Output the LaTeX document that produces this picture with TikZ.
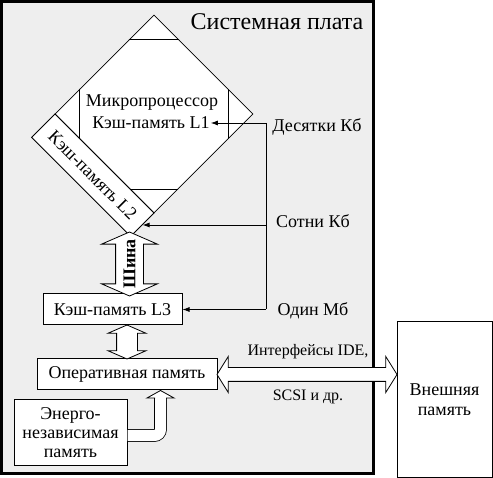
\documentclass[tikz,border=0pt]{standalone}
\usepackage{fontspec}
\setmainfont{Liberation Serif}
\usetikzlibrary{arrows.meta,shapes.geometric,shapes.arrows,calc}

\definecolor{boardgray}{HTML}{EEEEEE}

\tikzset{
    block/.style={draw, line width=1pt, fill=white, inner sep=0pt, align=center},
    hollow/.style={double arrow, draw, line width=0.8pt, fill=white, inner xsep=0pt},
    feed/.style={line width=0.8pt, -{Latex[length=7pt,width=5pt]}},
    lbl/.style={inner sep=1pt}
}

\begin{document}
\begin{tikzpicture}[x=1pt, y=-1pt, font=\fontsize{18}{21}\selectfont]
    \useasboundingbox (0,0) rectangle (493,478);

    % System board
    \draw[line width=3pt, fill=boardgray] (1.5,1.5) rectangle (373.5,473.5);
    \node[lbl, font=\fontsize{24}{28}\selectfont] (board) at (277,22) {Системная плата};

    % Processor with cache L1 and L2
    \node[diamond, draw, line width=0.8pt, fill=white, minimum width=198pt,
          minimum height=198pt, inner sep=0pt] (cpu) at (154,114) {};
    \begin{scope}
        \clip (cpu.north) -- (cpu.east) -- (cpu.south) -- (cpu.west) -- cycle;
        \draw[line width=0.8pt] (79,39) rectangle (228,189);
    \end{scope}
    \node[lbl] (proc) at (152,103) {Микропроцессор};
    \node[lbl] (l1) at (151,123) {Кэш-память L1};
    \node[block, line width=0.8pt, rotate=-45, minimum width=140pt, minimum height=33pt]
        (l2) at (92.8,175.2) {Кэш-память L2};

    % Lower memory levels
    \node[block, minimum width=139pt, minimum height=31pt] (l3) at (112.5,309.5) {Кэш-память L3};
    \node[block, minimum width=180pt, minimum height=31pt] (ram) at (127,374.5) {Оперативная память};
    \node[block, minimum width=113pt, minimum height=65pt] (nvm) at (70.5,432.5)
        {Энерго-\\[-2pt]независимая\\[-2pt]память};
    \node[block, minimum width=95pt, minimum height=155pt] (ext) at (444.5,399.5)
        {Внешняя\\[-1pt]память};

    % Bus and hollow arrows
    \node[hollow, rotate=90, minimum height=64pt, inner ysep=13.5pt,
          double arrow head extend=14pt, double arrow tip angle=133] (bus) at (129.5,264) {};
    \node[rotate=90, inner sep=0pt, font=\fontsize{18}{21}\selectfont\bfseries] (bustext) at (bus) {Шина};
    \node[hollow, rotate=90, minimum height=34pt, inner ysep=10pt,
          double arrow head extend=8.5pt, double arrow tip angle=133]
        (l3ram) at ($(l3.south -| 127,0)!0.5!(ram.north -| 127,0)$) {};
    \node[hollow, minimum height=180pt, inner ysep=6.5pt,
          double arrow head extend=11pt, double arrow tip angle=116]
        (io) at ($(ram.east)!0.5!(ram.east -| ext.west)$) {};
    \node[lbl, font=\fontsize{16}{19}\selectfont] (ide) at (308,352) {Интерфейсы IDE,};
    \node[lbl, font=\fontsize{16}{19}\selectfont] (scsi) at (308,397) {SCSI и др.};

    % Non-volatile memory to RAM
    \coordinate (bend) at (160.5,435.5);
    \draw[line width=0.8pt, double=white, double distance=11pt, rounded corners=6pt]
        (nvm.east |- bend) -- (bend) -- (bend |- 0,398);
    \draw[line width=0.8pt, fill=white] (155,398) -- (147,398) -- (bend |- ram.south)
        -- (174,398) -- (166,398);

    % Feed lines with sizes
    \node[lbl] (dec) at (317,127) {Десятки Кб};
    \node[lbl] (sot) at (313,221) {Сотни Кб};
    \node[lbl] (odin) at (313,311) {Один Мб};
    \coordinate (feed) at (266,0);
    \draw[line width=0.8pt] (feed |- l1.east) -- (feed |- l3.east);
    \draw[feed] (feed |- l1.east) -- (l1.east);
    \draw[feed] (feed |- l2.east) -- (l2.east);
    \draw[feed] (feed |- l3.east) -- (l3.east);
\end{tikzpicture}
\end{document}
